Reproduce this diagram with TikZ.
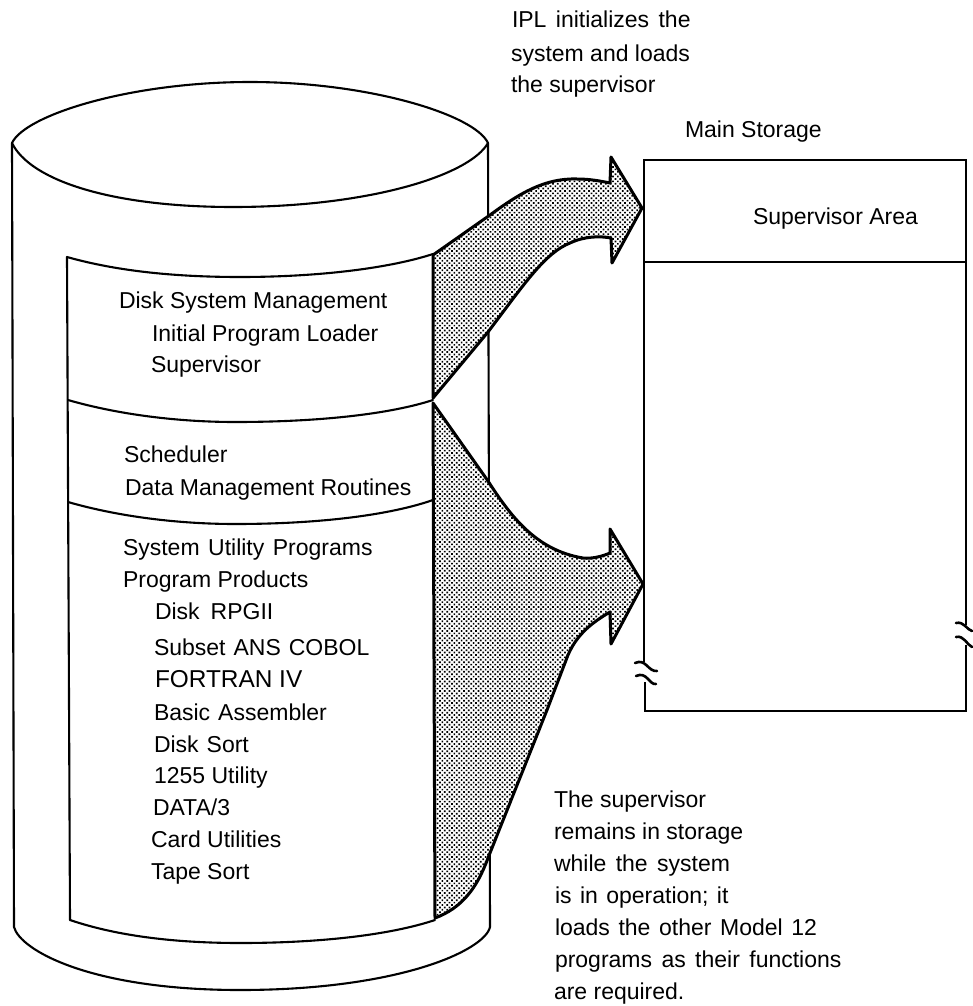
\documentclass[tikz,border=0pt]{standalone}
\usepackage{fontspec}
\setmainfont{Liberation Sans}
\usetikzlibrary{patterns.meta}
\tikzset{
  thin line/.style={line width=2.1pt,line join=round,line cap=round},
  box line/.style={line width=2.4pt,line join=miter},
  arrow shape/.style={line width=3pt,line join=round,preaction={fill=white},
    pattern={Dots[distance=3.4pt,radius=1.2pt,angle=45]},pattern color=black},
  brk/.style={line width=2.6pt,line cap=round},
  label/.style={anchor=base west,inner sep=0pt,outer sep=0pt,font=\fontsize{23}{27}\selectfont}
}
\begin{document}
\begin{tikzpicture}[x=1pt,y=-1pt]
\useasboundingbox (0,0) rectangle (972,1006);
% drum
\draw[thin line] (12,143) .. controls (25,115) and (130,82) .. (250,82) .. controls (370,82) and (475,115) .. (488,143) .. controls (470,175) and (370,207) .. (233,207) .. controls (110,207) and (30,180) .. cycle;
\draw[thin line] (12,143) -- (14,927) .. controls (20,950) and (90,990) .. (240,990) .. controls (400,990) and (485,950) .. (490,927) -- (488,143);
% panel
\draw[thin line] (67,257) .. controls (120,272) and (180,277) .. (240,277) .. controls (320,277) and (390,268) .. (433,254);
\draw[thin line] (68,400) .. controls (120,415) and (180,422) .. (235,422) .. controls (320,422) and (390,414) .. (433,400);
\draw[thin line] (68,502) .. controls (120,517) and (180,524) .. (235,524) .. controls (320,524) and (390,515) .. (433,500);
\draw[thin line] (70,920) .. controls (120,937) and (180,943) .. (240,943) .. controls (320,943) and (390,935) .. (435,920);
\draw[thin line] (67,257) -- (70,920);
% main storage box
\draw[box line] (644,662) -- (644,160) -- (966,160) -- (966,625);
\draw[box line] (966,645) -- (966,711) -- (645,711) -- (645,682);
\draw[box line] (644,262) -- (966,262);
\draw[brk] (635,663) .. controls (646,658) and (648,672) .. (657,671);
\draw[brk] (636,676) .. controls (647,671) and (649,685) .. (656,684);
\draw[brk] (956,623) .. controls (964,621) and (967,630) .. (972,631);
\draw[brk] (956,637) .. controls (964,635) and (967,645) .. (972,647);
% arrows
\draw[arrow shape] (433,255) -- (490,215) .. controls (520,193) and (545,178) .. (577,179) .. controls (590,179) and (600,181) .. (610,183) -- (611,157) -- (642,208) -- (612,263) -- (611,238) .. controls (600,236) and (585,236) .. (570,243) .. controls (545,253) and (525,283) .. (488,332) -- (433,398) -- cycle;
\draw[arrow shape] (433,403) -- (488,481) .. controls (510,515) and (535,550) .. (583,558) .. controls (593,559) and (603,556) .. (610,553) -- (610,529) -- (643,584) -- (611,644) -- (610,612) .. controls (595,621) and (578,632) .. (568,655) -- (547,710) -- (488,858) .. controls (477,888) and (462,908) .. (435,918) -- cycle;
% labels
\node[label] (ipla) at (512,28) {IPL\hspace{3pt} initializes\hspace{3pt} the\hspace{0pt}};
\node[label] (iplb) at (511,62) {system and loads};
\node[label] (iplc) at (511,93) {the supervisor};
\node[label] (main) at (685,138) {Main Storage};
\node[label] (suparea) at (753,224) {Supervisor Area};
\node[label] (dsm) at (119,308) {Disk System Management};
\node[label] (ipl) at (152,341) {Initial Program Loader};
\node[label] (sup) at (151,372) {Supervisor};
\node[label] (sch) at (124,462) {Scheduler};
\node[label] (dmr) at (125,495) {Data Management Routines};
\node[label] (sysu) at (123,555) {\spaceskip=8.5pt System Utility Programs};
\node[label] (pp) at (123,587) {Program Products};
\node[label] (rpg) at (155,619) {\spaceskip=11pt Disk RPGII};
\node[label] (cobol) at (154,655) {\spaceskip=8pt Subset ANS COBOL};
\node[label,font=\fontsize{24.4}{27}\selectfont] (fort) at (155,687) {FORTRAN IV};
\node[label] (basic) at (154,720) {\spaceskip=8pt Basic Assembler};
\node[label] (dsort) at (154,752) {\spaceskip=8pt Disk Sort};
\node[label] (u1255) at (154,783) {1255 Utility};
\node[label] (data) at (153,815) {DATA/3};
\node[label] (card) at (151,847) {Card Utilities};
\node[label] (tape) at (151,879) {Tape Sort};
\node[label] (t1) at (554,807) {The supervisor};
\node[label] (t2) at (554,839) {remains in storage};
\node[label] (t3) at (554,871) {\spaceskip=9.4pt while the system};
\node[label] (t4) at (555,903) {\spaceskip=8.4pt is in operation; it};
\node[label] (t5) at (555,935) {\spaceskip=8.6pt loads the other Model 12};
\node[label] (t6) at (555,967) {\spaceskip=9.4pt programs as their functions};
\node[label] (t7) at (554,999) {are required.};
\end{tikzpicture}
\end{document}
